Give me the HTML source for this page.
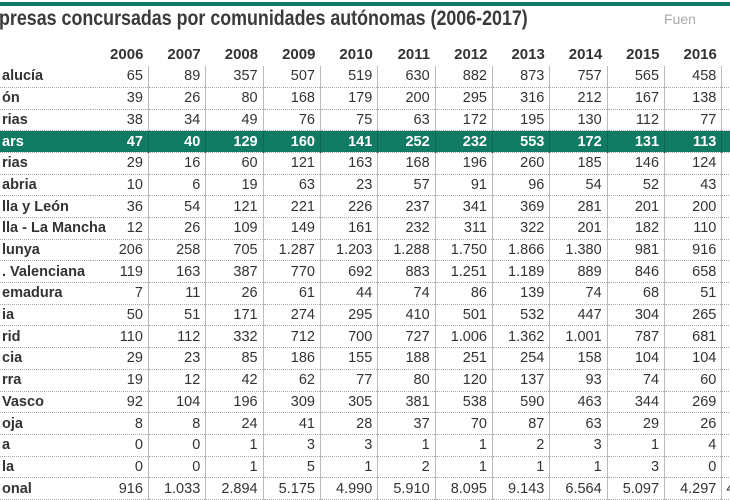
<!DOCTYPE html>
<html><head><meta charset="utf-8"><style>
body{margin:0;width:730px;height:500px;overflow:hidden;background:#fff;font-family:"Liberation Sans",sans-serif;color:#333;position:relative}
.top{position:absolute;left:0;top:2px;width:730px;height:4px;background:#117a63}
.title{position:absolute;left:-1px;top:7px;font-size:21px;font-weight:bold;color:#3a3a3a;white-space:nowrap;transform:scaleX(0.85);transform-origin:0 0}
.src{position:absolute;left:664px;top:11px;font-size:14px;color:#aaa}
table{position:absolute;left:0;top:44px;border-collapse:collapse;table-layout:fixed;width:779px}
tr{height:21.7px}
td{height:20.7px;padding:0 5px 0 0;font-size:14.5px;text-align:right;border-left:1px solid #bbb;border-bottom:1px dotted #aaa;white-space:nowrap;overflow:hidden;line-height:20px;box-sizing:border-box}
td:first-child{text-align:left;border-left:none;font-weight:bold;padding-left:2px;font-size:14.5px;overflow:visible;position:relative;z-index:1}
td:nth-child(2){border-left:none}
tr.h td{border:none;font-weight:bold;font-size:15px;height:19px}
tr.g td{background:#117a63;color:#fff;font-weight:bold;border-left-color:#0d6652}
</style></head><body>
<div class="top"></div>
<div class="title">presas concursadas por comunidades autónomas (2006-2017)</div>
<div class="src">Fuen</div>
<table>
<colgroup><col style="width:91px"><col span="11" style="width:57.3px"><col style="width:57px"></colgroup>
<tr class="h"><td></td><td>2006</td><td>2007</td><td>2008</td><td>2009</td><td>2010</td><td>2011</td><td>2012</td><td>2013</td><td>2014</td><td>2015</td><td>2016</td><td></td></tr>
<tr><td>alucía</td><td>65</td><td>89</td><td>357</td><td>507</td><td>519</td><td>630</td><td>882</td><td>873</td><td>757</td><td>565</td><td>458</td><td></td></tr>
<tr><td>ón</td><td>39</td><td>26</td><td>80</td><td>168</td><td>179</td><td>200</td><td>295</td><td>316</td><td>212</td><td>167</td><td>138</td><td></td></tr>
<tr><td>rias</td><td>38</td><td>34</td><td>49</td><td>76</td><td>75</td><td>63</td><td>172</td><td>195</td><td>130</td><td>112</td><td>77</td><td></td></tr>
<tr class="g"><td>ars</td><td>47</td><td>40</td><td>129</td><td>160</td><td>141</td><td>252</td><td>232</td><td>553</td><td>172</td><td>131</td><td>113</td><td></td></tr>
<tr><td>rias</td><td>29</td><td>16</td><td>60</td><td>121</td><td>163</td><td>168</td><td>196</td><td>260</td><td>185</td><td>146</td><td>124</td><td></td></tr>
<tr><td>abria</td><td>10</td><td>6</td><td>19</td><td>63</td><td>23</td><td>57</td><td>91</td><td>96</td><td>54</td><td>52</td><td>43</td><td></td></tr>
<tr><td>lla y León</td><td>36</td><td>54</td><td>121</td><td>221</td><td>226</td><td>237</td><td>341</td><td>369</td><td>281</td><td>201</td><td>200</td><td></td></tr>
<tr><td>lla - La Mancha</td><td>12</td><td>26</td><td>109</td><td>149</td><td>161</td><td>232</td><td>311</td><td>322</td><td>201</td><td>182</td><td>110</td><td></td></tr>
<tr><td>lunya</td><td>206</td><td>258</td><td>705</td><td>1.287</td><td>1.203</td><td>1.288</td><td>1.750</td><td>1.866</td><td>1.380</td><td>981</td><td>916</td><td></td></tr>
<tr><td>. Valenciana</td><td>119</td><td>163</td><td>387</td><td>770</td><td>692</td><td>883</td><td>1.251</td><td>1.189</td><td>889</td><td>846</td><td>658</td><td></td></tr>
<tr><td>emadura</td><td>7</td><td>11</td><td>26</td><td>61</td><td>44</td><td>74</td><td>86</td><td>139</td><td>74</td><td>68</td><td>51</td><td></td></tr>
<tr><td>ia</td><td>50</td><td>51</td><td>171</td><td>274</td><td>295</td><td>410</td><td>501</td><td>532</td><td>447</td><td>304</td><td>265</td><td></td></tr>
<tr><td>rid</td><td>110</td><td>112</td><td>332</td><td>712</td><td>700</td><td>727</td><td>1.006</td><td>1.362</td><td>1.001</td><td>787</td><td>681</td><td></td></tr>
<tr><td>cia</td><td>29</td><td>23</td><td>85</td><td>186</td><td>155</td><td>188</td><td>251</td><td>254</td><td>158</td><td>104</td><td>104</td><td></td></tr>
<tr><td>rra</td><td>19</td><td>12</td><td>42</td><td>62</td><td>77</td><td>80</td><td>120</td><td>137</td><td>93</td><td>74</td><td>60</td><td></td></tr>
<tr><td>Vasco</td><td>92</td><td>104</td><td>196</td><td>309</td><td>305</td><td>381</td><td>538</td><td>590</td><td>463</td><td>344</td><td>269</td><td></td></tr>
<tr><td>oja</td><td>8</td><td>8</td><td>24</td><td>41</td><td>28</td><td>37</td><td>70</td><td>87</td><td>63</td><td>29</td><td>26</td><td></td></tr>
<tr><td>a</td><td>0</td><td>0</td><td>1</td><td>3</td><td>3</td><td>1</td><td>1</td><td>2</td><td>3</td><td>1</td><td>4</td><td></td></tr>
<tr><td>la</td><td>0</td><td>0</td><td>1</td><td>5</td><td>1</td><td>2</td><td>1</td><td>1</td><td>1</td><td>3</td><td>0</td><td></td></tr>
<tr><td>onal</td><td>916</td><td>1.033</td><td>2.894</td><td>5.175</td><td>4.990</td><td>5.910</td><td>8.095</td><td>9.143</td><td>6.564</td><td>5.097</td><td>4.297</td><td style="text-align:left;padding-left:4px">4</td></tr>
</table>
</body></html>
